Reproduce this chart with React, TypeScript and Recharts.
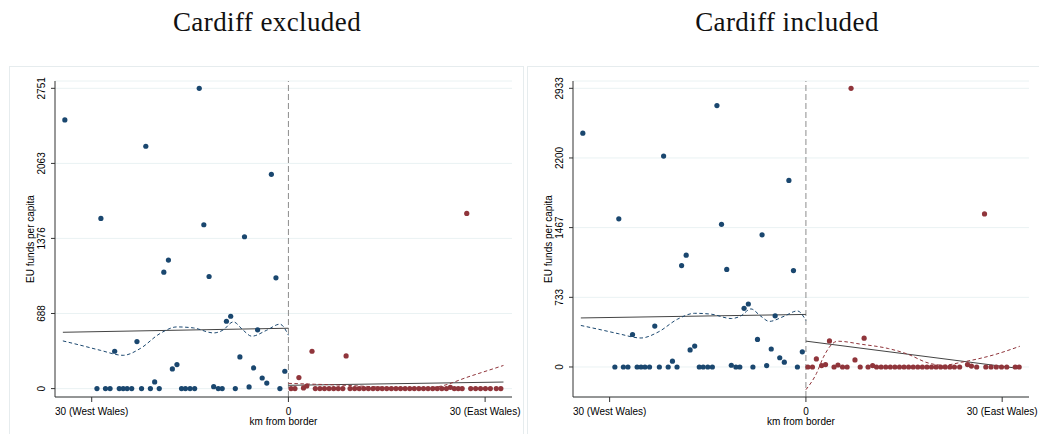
import React from "react";
import {
    ComposedChart,
    Scatter,
    Line,
    XAxis,
    YAxis,
    CartesianGrid,
    ReferenceLine
} from "recharts";

const SANS = "'Liberation Sans', Arial, sans-serif";
const SERIF = "'Liberation Serif', 'Times New Roman', serif";
const NAVY = "#1a476f";
const MAROON = "#90353b";

const xTicks = [-30, 0, 30];
const xTickLabels = ["30 (West Wales)", "0", "30 (East Wales)"];
const yTicksExcl = [0, 688, 1376, 2063, 2751];
const yTicksIncl = [0, 733, 1467, 2200, 2933];

// west of the border (same in both panels)
const westKm = [
    -34.1, -28.6, -26.5, -23.1, -21.75, -20.4, -19.0, -18.3, -17.7, -17.0, -13.6, -12.9, -12.1,
    -11.4, -9.45, -8.8, -7.4, -6.7, -6.0, -5.3, -4.7, -4.0, -3.3, -2.6, -1.9, -0.55,
    -29.2, -27.9, -27.2, -25.8, -25.2, -24.6, -23.9, -22.4, -21.05, -19.7, -16.3, -15.7, -15.0,
    -14.3, -10.7, -10.1, -8.1, -1.3
];
const westFunds = [
    2461, 1559, 342, 431, 2220, 61, 1067, 1177, 180, 220, 2751, 1501, 1027,
    18, 617, 663, 290, 1391, 15, 189, 538, 97, 51, 1963, 1015, 159,
    0, 0, 0, 0, 0, 0, 0, 0, 0, 0, 0, 0, 0,
    0, 0, 0, 0, 0
];

// east of the border, Cardiff excluded
const eastKmExcl = [
    0.4, 1.0, 1.6, 2.3, 2.8, 3.6, 4.1, 4.8, 5.5, 6.2, 6.9, 7.6, 8.3, 8.8,
    9.4, 10.1, 10.8, 11.5, 12.2, 12.9, 13.6, 14.3, 15.0, 15.7, 16.4, 17.1, 17.8, 18.5,
    19.2, 19.9, 20.6, 21.3, 22.0, 22.7, 23.4, 24.1, 24.7, 25.3, 25.9, 26.5, 27.2,
    27.8, 28.55, 29.3, 30.05, 30.8, 31.7, 32.4
];
const eastFundsExcl = [
    0, 0, 101, 6, 24, 342, 0, 0, 0, 0, 0, 0, 0, 299,
    0, 0, 0, 0, 0, 0, 0, 0, 0, 0, 0, 0, 0, 0,
    0, 0, 0, 0, 0, 0, 0, 0, 12, 0, 0, 0, 1605,
    0, 0, 0, 0, 0, 0, 0
];

// east of the border, Cardiff included
const eastKmIncl = [
    0.3, 1.0, 1.6, 2.4, 3.0, 3.6, 4.3, 4.9, 5.6, 6.3, 6.9, 7.5, 8.3, 8.9,
    9.5, 10.2, 10.8, 11.5, 12.2, 12.9, 13.6, 14.3, 15.0, 15.7, 16.4, 17.1, 17.8,
    18.5, 19.2, 19.9, 20.6, 21.3, 22.0, 22.7, 23.5, 24.7, 25.3, 26.1, 27.3,
    27.5, 28.3, 29.1, 29.9, 30.7, 32.0, 32.6
];
const eastFundsIncl = [
    0, 0, 85, 15, 25, 274, 0, 21, 0, 0, 2933, 74, 0, 303,
    0, 15, 0, 0, 0, 0, 0, 0, 0, 0, 0, 0, 0,
    0, 0, 0, 0, 0, 0, 0, 0, 25, 10, 0, 1611,
    0, 0, 0, 0, 0, 0, 0
];

// fitted lines
const westFitKm = [-34.4, 0];
const westFitFunds = [516, 553];
const westLowessKm = [-34.4, -31.3, -28.7, -25.2, -22.6, -19.6, -17.0, -14.5, -11.4, -10.0, -8.4, -6.9, -5.6, -3.3, -1.3, 0];
const westLowessFunds = [437, 391, 351, 305, 367, 504, 565, 556, 510, 535, 611, 535, 480, 535, 590, 489];

const eastFitKmExcl = [0, 32.8];
const eastFitFundsExcl = [30, 60];
const eastLowessKmExcl = [0, 4, 8, 12, 16, 20, 22.6, 27.7, 32.8];
const eastLowessFundsExcl = [48, 40, 32, 20, 8, 4, 15, 113, 212];

const eastFitKmIncl = [0, 32.7];
const eastFitFundsIncl = [272, -17];
const eastLowessKmIncl = [0, 1.6, 2.65, 4.4, 4.9, 8.5, 12.6, 15.6, 18.7, 21.0, 23.8, 28.9, 32.7];
const eastLowessFundsIncl = [-239, -70, 100, 262, 271, 239, 194, 134, 42, 18, 50, 131, 218];

const pts = (xs: number[], ys: number[]) => xs.map((x, i) => ({ x, y: ys[i] }));

const dot = (color: string) => (p: any) => <circle cx={p.cx} cy={p.cy} r={2.6} fill={color} />;

const YTick = (props: any) => {
    const { x, y, payload } = props;
    const bx = x - 4;
    return (
        <text x={bx} y={y} transform={`rotate(-90 ${bx} ${y})`} textAnchor="middle"
            fontSize={10} fontFamily={SANS} fill="#000">
            {payload.value}
        </text>
    );
};

interface PanelProps {
    left: number;
    width: number;
    marginLeft: number;
    marginRight: number;
    yDomain: [number, number];
    yTicks: number[];
    east: { x: number; y: number }[];
    eastFit: { x: number; y: number }[];
    eastLowess: { x: number; y: number }[];
}

function Panel(p: PanelProps) {
    return (
        <div style={{ position: "absolute", left: p.left, top: 67 }}>
            <ComposedChart width={p.width} height={367}
                margin={{ top: 14, right: p.marginRight, bottom: 7, left: p.marginLeft }}>
                <CartesianGrid vertical={false} stroke="#eaf2f3" />
                <XAxis type="number" dataKey="x" domain={[-35.6, 34.1]} ticks={xTicks} interval={0}
                    allowDataOverflow
                    tickFormatter={(v) => xTickLabels[xTicks.indexOf(v)]}
                    tick={{ fontSize: 10, fontFamily: SANS, fill: "#000" }}
                    tickSize={5} tickMargin={6} height={30}
                    stroke="#333"
                    label={{ value: "km from border", position: "insideBottom", offset: 2, fontSize: 10, fontFamily: SANS, fill: "#000" }}
                />
                <YAxis type="number" dataKey="y" domain={p.yDomain} ticks={p.yTicks} interval={0}
                    allowDataOverflow width={35}
                    tick={<YTick />} tickSize={4} tickMargin={2}
                    stroke="#333"
                    label={{ value: "EU funds per capita", angle: -90, position: "insideLeft", offset: 10.5, fontSize: 10, fontFamily: SANS, fill: "#000", style: { textAnchor: "middle" } }}
                />
                <ReferenceLine x={0} stroke="#8c8c8c" strokeDasharray="6 3" />
                <Scatter data={pts(westKm, westFunds)} fill={NAVY} shape={dot(NAVY)} isAnimationActive={false} />
                <Scatter data={p.east} fill={MAROON} shape={dot(MAROON)} isAnimationActive={false} />
                <Line data={pts(westFitKm, westFitFunds)} dataKey="y" type="linear" stroke="#444" strokeWidth={1} dot={false} isAnimationActive={false} />
                <Line data={pts(westLowessKm, westLowessFunds)} dataKey="y" type="monotone" stroke={NAVY} strokeWidth={1} strokeDasharray="3.5 2.5" dot={false} isAnimationActive={false} />
                <Line data={p.eastFit} dataKey="y" type="linear" stroke="#444" strokeWidth={1} dot={false} isAnimationActive={false} />
                <Line data={p.eastLowess} dataKey="y" type="monotone" stroke={MAROON} strokeWidth={1} strokeDasharray="3.5 2.5" dot={false} isAnimationActive={false} />
            </ComposedChart>
        </div>
    );
}

export default function App() {
    return (
        <div style={{ position: "absolute", left: 0, top: 0, width: 1039, height: 434, background: "#fff", overflow: "hidden" }}>
            <svg width={1039} height={434} style={{ position: "absolute", left: 0, top: 0 }}>
                <rect x={9.5} y={66.5} width={514} height={380} fill="none" stroke="#e6ecee" />
                <rect x={527.5} y={66.5} width={520} height={380} fill="none" stroke="#e6ecee" />
                <text x={267} y={31} textAnchor="middle" fontFamily={SERIF} fontSize={27} letterSpacing={0.4} fill="#111">Cardiff excluded</text>
                <text x={787} y={31} textAnchor="middle" fontFamily={SERIF} fontSize={27} letterSpacing={0.4} fill="#111">Cardiff included</text>
            </svg>
            <Panel left={10} width={513} marginLeft={10} marginRight={11}
                yDomain={[-77, 2818]} yTicks={yTicksExcl}
                east={pts(eastKmExcl, eastFundsExcl)}
                eastFit={pts(eastFitKmExcl, eastFitFundsExcl)}
                eastLowess={pts(eastLowessKmExcl, eastLowessFundsExcl)} />
            <Panel left={527} width={512} marginLeft={11} marginRight={10}
                yDomain={[-316, 3010]} yTicks={yTicksIncl}
                east={pts(eastKmIncl, eastFundsIncl)}
                eastFit={pts(eastFitKmIncl, eastFitFundsIncl)}
                eastLowess={pts(eastLowessKmIncl, eastLowessFundsIncl)} />
        </div>
    );
}
